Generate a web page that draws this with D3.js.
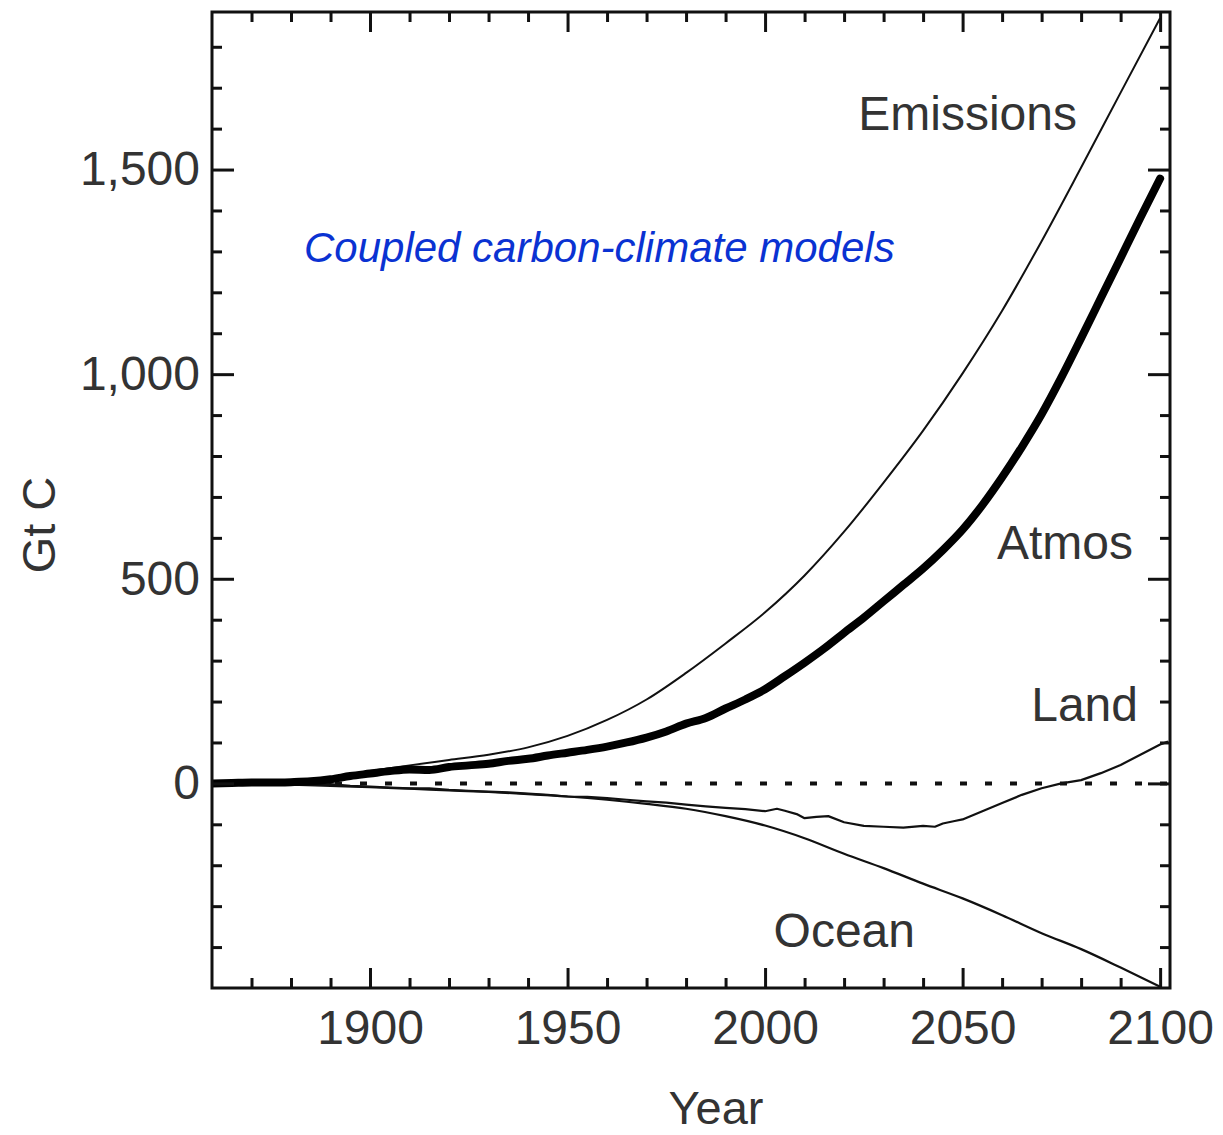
<!DOCTYPE html>
<html>
<head>
<meta charset="utf-8">
<script src="https://cdn.jsdelivr.net/npm/d3@7"></script>
<style>
  body { margin: 0; background: #fff; }
  svg text { font-family: "Liberation Sans", Arial, Helvetica, sans-serif; }
</style>
</head>
<body>
<svg id="chart" width="1223" height="1135"></svg>
<script>
// Cumulative carbon budget (Gt C), coupled carbon-climate model run
const years = [1860, 1870, 1880, 1890, 1900, 1910, 1920, 1930, 1940, 1950, 1960, 1970,
               1980, 1990, 2000, 2010, 2020, 2030, 2040, 2050, 2060, 2070, 2080, 2090, 2100];
const emissions = [0, 3, 7, 15, 30, 44, 57, 70, 88, 116, 155, 205,
                   270, 342, 418, 508, 615, 735, 862, 1002, 1155, 1325, 1505, 1688, 1870];
const ocean = [0, -1, -3, -6, -9, -13, -17, -21, -26, -32, -40, -50,
               -62, -80, -103, -134, -172, -207, -245, -281, -322, -366, -405, -450, -497];

const atmosYears = [1860, 1865, 1870, 1875, 1880, 1885, 1890, 1895, 1900, 1905, 1910, 1915,
                    1920, 1925, 1930, 1935, 1940, 1945, 1950, 1955, 1960, 1965, 1970, 1975,
                    1980, 1985, 1990, 1995, 2000, 2005, 2010, 2015, 2020, 2025, 2030, 2035,
                    2040, 2045, 2050, 2055, 2060, 2065, 2070, 2075, 2080, 2085, 2090, 2095, 2100];
const atmos = [0, 1, 2, 2, 3, 5, 10, 18, 24, 30, 34, 33,
               40, 44, 48, 55, 60, 68, 75, 82, 90, 100, 112, 127,
               146, 160, 183, 205, 230, 262, 295, 330, 368, 405, 445, 485,
               525, 570, 620, 680, 748, 822, 902, 992, 1088, 1186, 1284, 1382, 1478];

const landYears = [1860, 1865, 1870, 1875, 1880, 1885, 1890, 1895, 1900, 1905, 1910, 1915,
                   1920, 1925, 1930, 1935, 1940, 1945, 1950, 1955, 1960, 1965, 1970, 1975,
                   1980, 1985, 1990, 1995, 2000, 2003, 2005, 2008, 2010, 2013, 2016, 2020,
                   2025, 2030, 2035, 2040, 2043, 2045, 2048, 2050, 2055, 2060, 2065, 2070,
                   2075, 2080, 2085, 2090, 2095, 2100, 2102];
const land = [0, 2, 1, 0, -1, -3, -2, -6, -8, -10, -12, -12,
              -16, -18, -20, -22, -25, -28, -32, -33, -36, -40, -44, -47,
              -52, -56, -60, -63, -68, -62, -67, -75, -85, -82, -80, -95,
              -104, -106, -108, -104, -106, -98, -92, -88, -68, -48, -28, -12,
              0, 8, 25, 45, 70, 95, 102];

const xMajorTicks = [1900, 1950, 2000, 2050, 2100];
const yMajorTicks = [0, 500, 1000, 1500];
const seriesNames = ["Emissions", "Atmos", "Land", "Ocean"];
const noteText = "Coupled carbon-climate models";
const xTitle = "Year";
const yTitle = "Gt C";

const svg = d3.select("#chart");
const plotLeft = 212, plotRight = 1170, plotTop = 12, plotBottom = 988;

const x = d3.scaleLinear().domain([1860, 2102.5]).range([plotLeft, plotRight]);
const y = d3.scaleLinear().domain([-500, 1885]).range([plotBottom, plotTop]);

const xMinor = d3.range(1870, 2101, 10).filter(v => !xMajorTicks.includes(v));
const yMinor = d3.range(-400, 1801, 100).filter(v => !yMajorTicks.includes(v));

const textColor = "#333";
const ink = "#111";

// clip region for the data lines
svg.append("defs").append("clipPath").attr("id", "plot-clip")
  .append("rect").attr("x", plotLeft).attr("y", plotTop)
  .attr("width", plotRight - plotLeft).attr("height", plotBottom - plotTop);

// zero reference line
svg.append("line")
  .attr("x1", plotLeft).attr("x2", plotRight)
  .attr("y1", y(0)).attr("y2", y(0))
  .attr("stroke", ink).attr("stroke-width", 4)
  .attr("stroke-dasharray", "7,18").attr("stroke-dashoffset", 2);

const lineGen = d3.line()
  .x(d => x(d[0])).y(d => y(d[1]))
  .curve(d3.curveMonotoneX);
const roughGen = d3.line()
  .x(d => x(d[0])).y(d => y(d[1]))
  .curve(d3.curveLinear);

const plot = svg.append("g").attr("clip-path", "url(#plot-clip)");

plot.append("path")
  .datum(years.map((yr, i) => [yr, ocean[i]]))
  .attr("d", lineGen).attr("fill", "none")
  .attr("stroke", ink).attr("stroke-width", 2.2);

plot.append("path")
  .datum(landYears.map((yr, i) => [yr, land[i]]))
  .attr("d", roughGen).attr("fill", "none")
  .attr("stroke", ink).attr("stroke-width", 2.2).attr("stroke-linejoin", "round");

plot.append("path")
  .datum(years.map((yr, i) => [yr, emissions[i]]))
  .attr("d", lineGen).attr("fill", "none")
  .attr("stroke", ink).attr("stroke-width", 2);

plot.append("path")
  .datum(atmosYears.map((yr, i) => [yr, atmos[i]]))
  .attr("d", lineGen).attr("fill", "none")
  .attr("stroke", "#000").attr("stroke-width", 8)
  .attr("stroke-linejoin", "round").attr("stroke-linecap", "round");

// axes: inward ticks on all four sides
function styleAxis(g) {
  g.select(".domain").remove();
  g.selectAll(".tick line").attr("stroke", ink).attr("stroke-width", 3);
  g.selectAll(".tick text")
    .attr("fill", textColor)
    .style("font-size", "48px");
}

svg.append("g").attr("transform", `translate(0,${plotBottom})`)
  .call(d3.axisBottom(x).tickValues(xMajorTicks).tickSize(-20).tickPadding(22).tickFormat(d3.format("d")))
  .call(styleAxis);
svg.append("g").attr("transform", `translate(0,${plotBottom})`)
  .call(d3.axisBottom(x).tickValues(xMinor).tickSize(-10).tickFormat(""))
  .call(styleAxis);
svg.append("g").attr("transform", `translate(0,${plotTop})`)
  .call(d3.axisTop(x).tickValues(xMajorTicks).tickSize(-20).tickFormat(""))
  .call(styleAxis);
svg.append("g").attr("transform", `translate(0,${plotTop})`)
  .call(d3.axisTop(x).tickValues(xMinor).tickSize(-10).tickFormat(""))
  .call(styleAxis);

svg.append("g").attr("transform", `translate(${plotLeft},0)`)
  .call(d3.axisLeft(y).tickValues(yMajorTicks).tickSize(-22).tickPadding(12).tickFormat(d3.format(",")))
  .call(styleAxis);
svg.append("g").attr("transform", `translate(${plotLeft},0)`)
  .call(d3.axisLeft(y).tickValues(yMinor).tickSize(-10).tickFormat(""))
  .call(styleAxis);
svg.append("g").attr("transform", `translate(${plotRight},0)`)
  .call(d3.axisRight(y).tickValues(yMajorTicks).tickSize(-22).tickFormat(""))
  .call(styleAxis);
svg.append("g").attr("transform", `translate(${plotRight},0)`)
  .call(d3.axisRight(y).tickValues(yMinor).tickSize(-10).tickFormat(""))
  .call(styleAxis);

// frame
svg.append("rect")
  .attr("x", plotLeft).attr("y", plotTop)
  .attr("width", plotRight - plotLeft).attr("height", plotBottom - plotTop)
  .attr("fill", "none").attr("stroke", ink).attr("stroke-width", 3);

// axis titles
svg.append("text")
  .attr("x", 716).attr("y", 1124)
  .attr("text-anchor", "middle").attr("fill", textColor)
  .style("font-size", "47px").text(xTitle);
svg.append("text")
  .attr("transform", "translate(55,525) rotate(-90)")
  .attr("text-anchor", "middle").attr("fill", textColor)
  .style("font-size", "47px").text(yTitle);

// series labels
const labelPos = [[1077, 130], [1133, 559], [1138, 721], [915, 947]];
svg.append("g").selectAll("text")
  .data(seriesNames)
  .join("text")
  .attr("x", (d, i) => labelPos[i][0]).attr("y", (d, i) => labelPos[i][1])
  .attr("text-anchor", "end").attr("fill", textColor)
  .style("font-size", "48px")
  .text(d => d);

// model annotation
svg.append("text")
  .attr("x", 304).attr("y", 262)
  .attr("fill", "#0a32d2")
  .style("font-size", "42px").style("font-style", "italic")
  .text(noteText);
</script>
</body>
</html>
